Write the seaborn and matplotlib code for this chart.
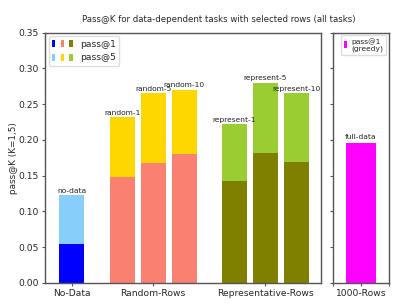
import matplotlib
matplotlib.use("Agg")
import matplotlib.pyplot as plt
import seaborn as sns
import pandas as pd
from matplotlib.patches import Patch
from matplotlib.legend_handler import HandlerTuple

# ---- data ----
bar_labels = ["no-data", "random-1", "random-5", "random-10",
              "represent-1", "represent-5", "represent-10"]
pass1 = [0.055, 0.148, 0.168, 0.180, 0.142, 0.181, 0.169]
pass5 = [0.123, 0.232, 0.265, 0.270, 0.222, 0.280, 0.265]
group_ticks = ["No-Data", "Random-Rows", "Representative-Rows"]
greedy_label = "full-data"
greedy_value = [0.196]
greedy_tick = "1000-Rows"

# positions / styles
positions = [0.0, 1.63, 2.63, 3.63, 5.25, 6.25, 7.25]
tick_pos = [0.0, 2.63, 6.25]
c1 = ["#0000FF", "#FA8072", "#FA8072", "#FA8072", "#808000", "#808000", "#808000"]
c5 = ["#87CEFA", "#FFD700", "#FFD700", "#FFD700", "#9ACD32", "#9ACD32", "#9ACD32"]

sns.set_style("ticks")
plt.rcParams["font.family"] = ["DejaVu Sans"]

fig = plt.figure(figsize=(3.99, 3.07), dpi=100)
ax = fig.add_axes([0.1128, 0.0782, 0.6917, 0.8158])
ax2 = fig.add_axes([0.8358, 0.0782, 0.1379, 0.8158])

df = pd.DataFrame({"pos": positions, "p1": pass1, "p5": pass5, "lab": bar_labels})
sns.barplot(data=df, x="pos", y="p5", hue="lab", palette=dict(zip(bar_labels, c5)),
            native_scale=True, dodge=False, legend=False, width=0.8,
            linewidth=0, saturation=1, ax=ax)
sns.barplot(data=df, x="pos", y="p1", hue="lab", palette=dict(zip(bar_labels, c1)),
            native_scale=True, dodge=False, legend=False, width=0.8,
            linewidth=0, saturation=1, ax=ax)

for x, v, t in zip(positions, pass5, bar_labels):
    ax.text(x, v + 0.002, t, ha="center", va="bottom", fontsize=5.4, color="#222222")

ax.set_xlim(-0.86, 8.04)
ax.set_ylim(0, 0.35)
ax.set_xticks(tick_pos)
ax.set_xticklabels(group_ticks)
ax.set_yticks([0, 0.05, 0.10, 0.15, 0.20, 0.25, 0.30, 0.35])
ax.set_yticklabels(["0.00", "0.05", "0.10", "0.15", "0.20", "0.25", "0.30", "0.35"])
ax.set_xlabel("")
ax.set_ylabel("pass@K (K=1,5)", fontsize=6.4, labelpad=0)
ax.tick_params(labelsize=6.6, length=2.5, width=0.8, color="#555555", pad=2)

h1 = tuple(Patch(facecolor=c, edgecolor="none") for c in ["#0000FF", "#FA8072", "#808000"])
h5 = tuple(Patch(facecolor=c, edgecolor="none") for c in ["#87CEFA", "#FFD700", "#9ACD32"])
ax.legend([h1, h5], ["pass@1", "pass@5"], loc="upper left", fontsize=6.6,
          handler_map={tuple: HandlerTuple(ndivide=None, pad=0.6)},
          handlelength=2.2, handleheight=0.8, framealpha=1, edgecolor="#dddddd",
          fancybox=True, borderaxespad=0.4)

gdf = pd.DataFrame({"pos": [0.0], "v": greedy_value})
sns.barplot(data=gdf, x="pos", y="v", color="#FF00FF", native_scale=True,
            width=0.8, linewidth=0, saturation=1, ax=ax2)
ax2.text(0, greedy_value[0] + 0.004, greedy_label, ha="center", va="bottom",
         fontsize=5.4, color="#222222")
ax2.set_xlim(-0.75, 0.75)
ax2.set_ylim(0, 0.35)
ax2.set_xticks([-0.75, 0, 0.75])
ax2.set_xticklabels(["", greedy_tick, ""])
ax2.set_yticks([0, 0.05, 0.10, 0.15, 0.20, 0.25, 0.30, 0.35])
ax2.set_yticklabels([])
ax2.set_xlabel("")
ax2.set_ylabel("")
ax2.tick_params(labelsize=6.6, length=2.5, width=0.8, color="#555555", pad=2)
ax2.legend([Patch(facecolor="#FF00FF", edgecolor="none")], ["pass@1\n(greedy)"],
           loc="upper right", fontsize=5.4, handlelength=0.4, handleheight=1.0,
           handletextpad=0.6, framealpha=1, edgecolor="#dddddd",
           borderaxespad=0.3, labelspacing=0.2)

for a in (ax, ax2):
    for s in a.spines.values():
        s.set_visible(True)
        s.set_color("#555555")
        s.set_linewidth(1.0)

fig.text(219 / 399, 1 - 19 / 307, "Pass@K for data-dependent tasks with selected rows (all tasks)",
         ha="center", va="center", fontsize=6.2)

fig.savefig("out.png", dpi=100)
